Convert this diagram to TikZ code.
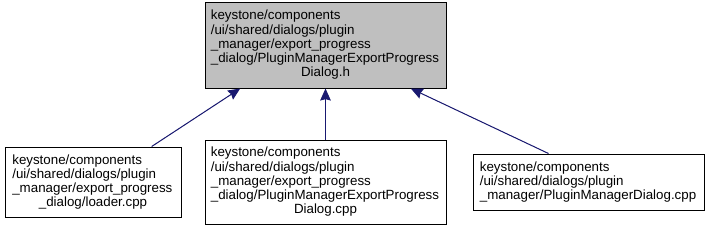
\documentclass[tikz,border=0pt]{standalone}
\usepackage{fontspec}
\setmainfont{Liberation Sans}
\usetikzlibrary{positioning, arrows.meta}
\definecolor{edge-color}{RGB}{25,25,112}
\definecolor{hdr-color}{RGB}{191,191,191}

\begin{document}
\begin{tikzpicture}[x=0.75pt, y=-0.75pt,
    file/.style={rectangle, draw, line width=0.75pt, align=left, inner sep=0pt,
        font=\fontsize{10}{10.7}\selectfont},
    arrow/.style={{Stealth[length=9pt, width=8pt, inset=1pt]}-, draw=edge-color, fill=edge-color, line width=0.75pt}]

    \useasboundingbox (0,0) rectangle (709,229);

    % Header being documented
    \node[file, fill=hdr-color, text width=172pt, minimum width=180.75pt, minimum height=64.5pt] (hdr) at (325.5,45)
        {keystone/components\\/ui/shared/dialogs/plugin\\\_manager/export\_progress\\\_dialog/PluginManagerExportProgress\\\hfill Dialog.h\hfill\null};

    % Files including it
    \node[file, text width=121pt, minimum width=132pt, minimum height=52.5pt] (loader) at (93,182)
        {keystone/components\\/ui/shared/dialogs/plugin\\\_manager/export\_progress\\\hfill\_dialog/loader.cpp\hfill\null};
    \node[file, text width=172pt, minimum width=180.75pt, minimum height=63pt] (dlgcpp) at (325.5,182)
        {keystone/components\\/ui/shared/dialogs/plugin\\\_manager/export\_progress\\\_dialog/PluginManagerExportProgress\\\hfill Dialog.cpp\hfill\null};
    \node[file, text width=163pt, minimum width=173.25pt, minimum height=42pt] (mgrcpp) at (588.5,182)
        {keystone/components\\/ui/shared/dialogs/plugin\\\_manager/PluginManagerDialog.cpp};

    % Arrows
    \draw[arrow] ([xshift=-64pt]hdr.south) -- ([xshift=44pt]loader.north);
    \draw[arrow] (hdr) -- (dlgcpp);
    \draw[arrow] ([xshift=64pt]hdr.south) -- ([xshift=-30pt]mgrcpp.north);
\end{tikzpicture}
\end{document}
